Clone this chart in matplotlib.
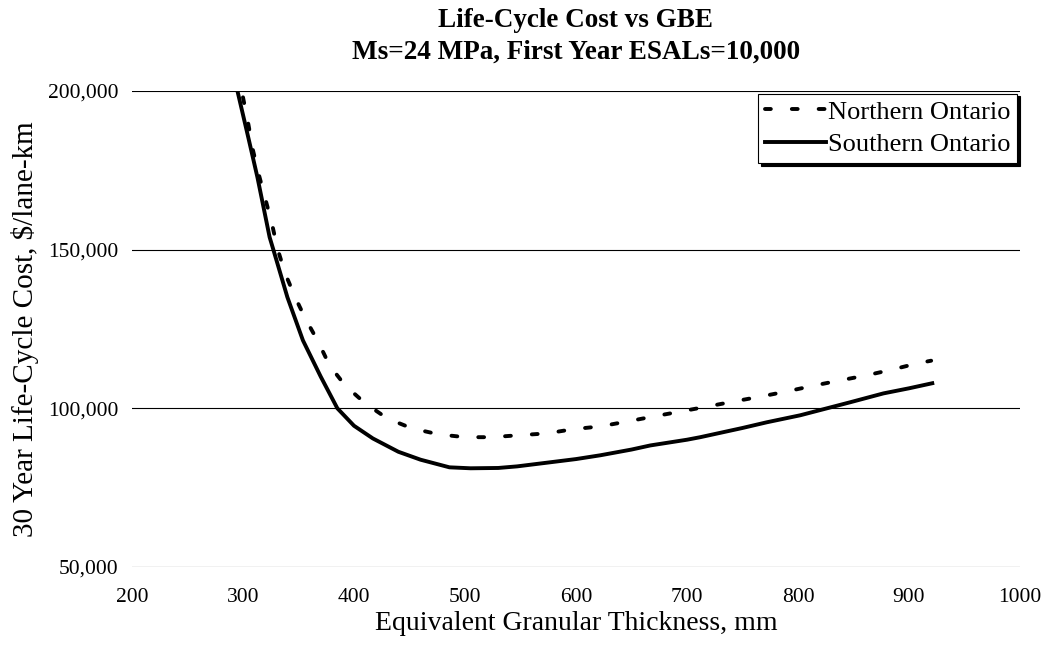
import numpy as np
import matplotlib.pyplot as plt

# Datos
x_norte = [300, 305, 309, 314, 326, 331, 338, 347, 356, 368, 378, 392, 410, 430,
           452, 476, 500, 524, 548, 574, 597, 622, 647, 671, 696, 719, 743, 768,
           791, 815, 838, 862, 886, 908, 920]
y_norte = [198000, 189200, 181300, 174000, 158300, 150400, 142500, 135000, 128400,
           120800, 113500, 107200, 101600, 96800, 93700, 91800, 90900, 90900, 91500,
           92100, 93400, 94300, 95900, 97500, 99100, 100600, 102200, 103800, 105400,
           107200, 108800, 110400, 112300, 114200, 115000]

x_sur = [295, 305, 313, 324, 327, 340, 354, 370, 385, 400, 417, 440, 460, 486, 505,
         530, 547, 577, 600, 622, 650, 667, 700, 712, 750, 772, 802, 847, 877, 900, 921]
y_sur = [200000, 185000, 172800, 153900, 150400, 135000, 121400, 110000, 100000,
         94500, 90500, 86300, 83800, 81400, 81100, 81200, 81700, 83000, 84000, 85200,
         87000, 88300, 90100, 90900, 93800, 95600, 97800, 101900, 104700, 106300, 107900]

plt.rcParams['font.family'] = ['Liberation Serif', 'DejaVu Serif']

fig = plt.figure(figsize=(10.46, 6.55), dpi=100)
ax = fig.add_axes([0.1262, 0.1344, 0.8489, 0.7267])

# Lineas de la grafica
ax.plot(x_norte, y_norte, color='black', linewidth=2.8, linestyle=(0, (1.5, 5.4)),
        dash_capstyle='round', label='Northern Ontario')
ax.plot(x_sur, y_sur, color='black', linewidth=2.8, label='Southern Ontario')

ax.set_xlim(200, 1000)
ax.set_ylim(50000, 200000)
ax.set_xticks(np.arange(200, 1001, 100))
ax.set_yticks([50000, 100000, 150000, 200000])
ax.set_yticklabels(['50,000', '100,000', '150,000', '200,000'])

# Rejilla horizontal sin marco
ax.grid(axis='y', color='black', linewidth=0.8)
ax.set_axisbelow(True)
for s in ax.spines.values():
    s.set_visible(False)
ax.tick_params(axis='both', length=0, labelsize=15.5)
ax.tick_params(axis='y', pad=10)
ax.tick_params(axis='x', pad=15)

ax.set_xlabel('Equivalent Granular Thickness, mm', fontsize=20, labelpad=3)
ax.set_ylabel('30 Year Life-Cycle Cost, $/lane-km', fontsize=21, labelpad=6)
ax.set_title('Life-Cycle Cost vs GBE\nMs=24 MPa, First Year ESALs=10,000',
             fontsize=19.5, fontweight='bold', pad=23, linespacing=1.35)

leg = ax.legend(loc='upper right', bbox_to_anchor=(1.0, 1.0), fontsize=19,
                frameon=True, fancybox=False, edgecolor='black', framealpha=1,
                shadow={'color': 'black', 'alpha': 1, 'ox': 2, 'oy': -2},
                handlelength=2.3, handletextpad=0.1, borderpad=0.25, labelspacing=0.35,
                borderaxespad=0.1)
leg.get_frame().set_linewidth(0.8)

plt.savefig('out.png', dpi=100)
